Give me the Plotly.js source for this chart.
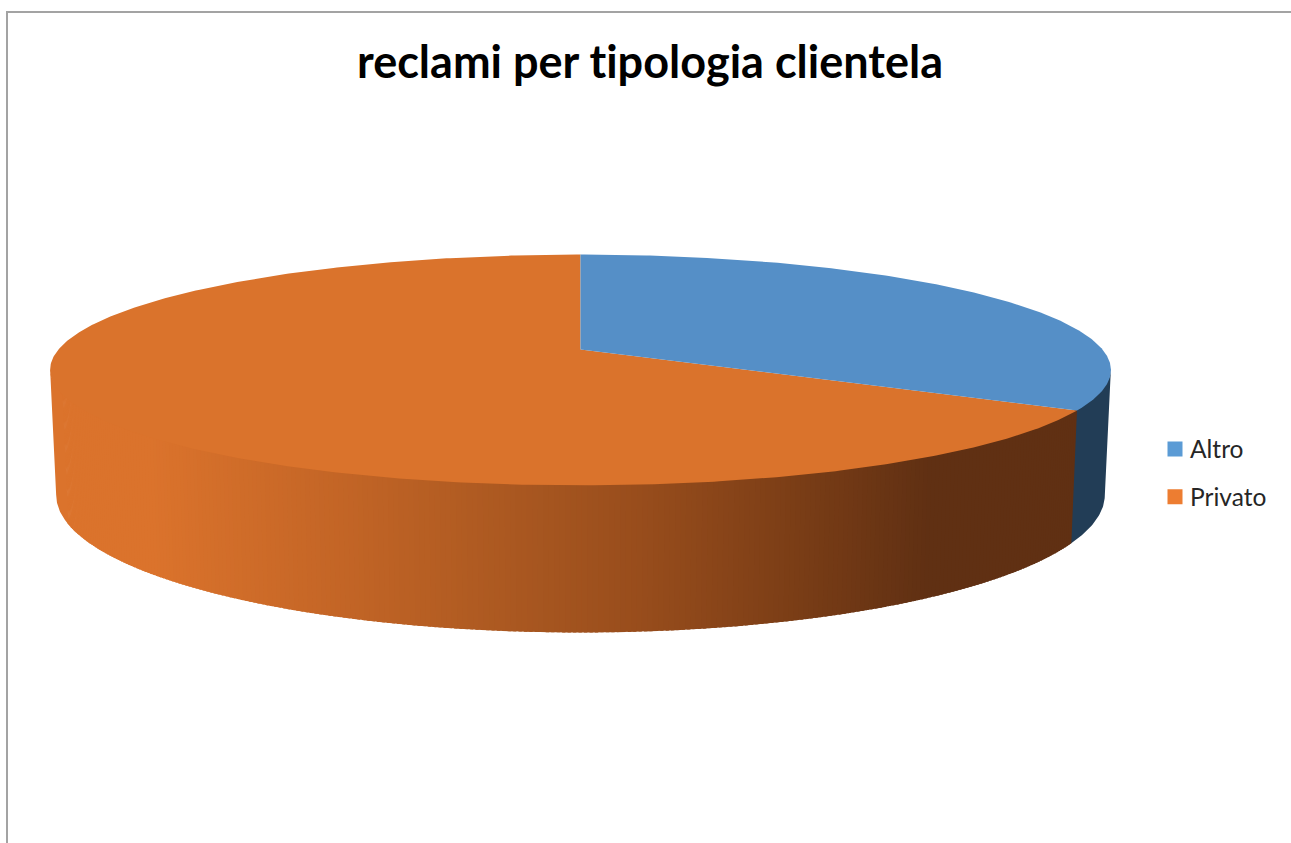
<!DOCTYPE html>
<html>
<head>
<meta charset="utf-8">
<script src="https://cdn.plot.ly/plotly-3.0.1.min.js"></script>
<style>
  html, body { margin: 0; padding: 0; background: #fff; overflow: hidden; }
  #chart { width: 1291px; height: 843px; }
  #chart text { letter-spacing: 0.01px; font-feature-settings: "liga" 0, "clig" 0, "dlig" 0; }
</style>
</head>
<body>
<div id="chart"></div>
<script>
// Reclami per tipologia di clientela
const categories = ["Altro", "Privato"];
const shares = [33.3, 66.7];
const legendColors = ["#5B9BD5", "#ED7D31"];
const topColors = ["#558FC7", "#DA732C"];
const altroSideColor = "#223D56";
const chartTitle = "reclami per tipologia clientela";

// Shading of the orange wall, left to right: [pixel x, r, g, b]
const wallShade = [
  [57, 219, 115, 44], [150, 219, 115, 44], [340, 195, 101, 38],
  [500, 172, 89, 33], [640, 152, 77, 28], [800, 122, 61, 22],
  [930, 96, 48, 19], [1100, 96, 48, 19]
];

// Perspective disc: both faces share the same foreshortening and differ in
// radius and vertical placement.
const centerX = 580.5;
const tilt = 0.1775;
const squash = -49.7;
const topFace = { y: 349.5, radius: 522 };
const wallTop = { y: 348, radius: 522 };     // tucked just under the top face
const bottomFace = { y: 470.5, radius: 516 };

function rim(face, deg) {
  const a = deg * Math.PI / 180;
  const u = Math.sin(a), v = Math.cos(a);
  const d = 1 + tilt * v;
  return [centerX + face.radius * u / d, (face.y + squash * v) / d];
}

function arc(face, from, to, step) {
  const n = Math.max(1, Math.ceil(Math.abs(to - from) / step));
  const pts = [];
  for (let i = 0; i <= n; i++) pts.push(rim(face, from + (to - from) * i / n));
  return pts;
}

function polygon(points, color) {
  return {
    type: "scatter", mode: "lines", fill: "toself", fillcolor: color,
    x: points.map(p => p[0]), y: points.map(p => p[1]),
    line: { width: 0, color: color }, hoverinfo: "skip", showlegend: false
  };
}

function shadeAt(x) {
  for (let i = 1; i < wallShade.length; i++) {
    if (x <= wallShade[i][0]) {
      const a = wallShade[i - 1], b = wallShade[i];
      const t = Math.max(0, (x - a[0]) / (b[0] - a[0]));
      const c = [1, 2, 3].map(k => Math.round(a[k] + (b[k] - a[k]) * t));
      return `rgb(${c[0]},${c[1]},${c[2]})`;
    }
  }
  const l = wallShade[wallShade.length - 1];
  return `rgb(${l[1]},${l[2]},${l[3]})`;
}

// Slice boundaries, clockwise from twelve o'clock
const total = shares.reduce((s, v) => s + v, 0);
const splitDeg = 360 * shares[0] / total;
const wallStart = Math.acos(-tilt) * 180 / Math.PI;   // right-hand silhouette
const wallEnd = 360 - wallStart;                      // left-hand silhouette

const traces = [];

function wall(from, to) {
  return arc(wallTop, from, to, 0.5).concat(arc(bottomFace, to, from, 0.5));
}

// Outer wall: the blue part, then narrow shaded bands for the orange part.
traces.push(polygon(wall(wallStart, splitDeg + 0.3), altroSideColor));
const bandSpan = 0.5;
for (let d = splitDeg; d < wallEnd - 12; d += bandSpan) {
  const end = d + bandSpan + 0.3;
  const midX = rim(topFace, d + bandSpan / 2)[0];
  traces.push(polygon(wall(d, end), shadeAt(midX)));
}
// The far-left end of the wall carries a single flat tone.
traces.push(polygon(wall(wallEnd - 12, wallEnd), shadeAt(57)));

// Top face
const apex = [centerX, topFace.y];
traces.push(polygon([apex].concat(arc(topFace, splitDeg, 360, 0.5)), topColors[1]));
traces.push(polygon([apex].concat(arc(topFace, 0, splitDeg, 0.5)), topColors[0]));

// Legend entries
categories.forEach((name, i) => {
  traces.push({
    type: "scatter", mode: "markers", name: name, x: [null], y: [null],
    marker: { symbol: "square", size: 15, color: legendColors[i] },
    legendgroup: name, hoverinfo: "skip"
  });
});

const layout = {
  width: 1291, height: 843,
  margin: { l: 0, r: 0, t: 0, b: 0 },
  paper_bgcolor: "#ffffff", plot_bgcolor: "#ffffff",
  title: {
    text: chartTitle, x: 650 / 1291, xanchor: "center",
    y: 1 - 62 / 843, yanchor: "middle",
    font: { family: "Lato", size: 45, color: "#000000", weight: 700 }
  },
  xaxis: { range: [0, 1291], visible: false, fixedrange: true },
  yaxis: { range: [843, 0], visible: false, fixedrange: true },
  legend: {
    x: 1150 / 1291, xanchor: "left", y: 1 - 473 / 843, yanchor: "middle",
    traceorder: "grouped", tracegroupgap: 13,
    font: { family: "Lato", size: 24.5, color: "#262626" },
    bgcolor: "rgba(0,0,0,0)"
  },
  shapes: [{
    type: "path", xref: "x", yref: "y", path: "M 7 843 L 7 12 L 1291 12",
    line: { color: "#a3a3a3", width: 2 }
  }]
};

Plotly.newPlot("chart", traces, layout, { displayModeBar: false, staticPlot: true }).then(() => {
  // Legend swatches sit closer to their labels than the default slot allows.
  document.querySelectorAll("#chart .legendsymbols").forEach(g => {
    g.setAttribute("transform", "translate(5,0)");
  });
});
</script>
</body>
</html>
